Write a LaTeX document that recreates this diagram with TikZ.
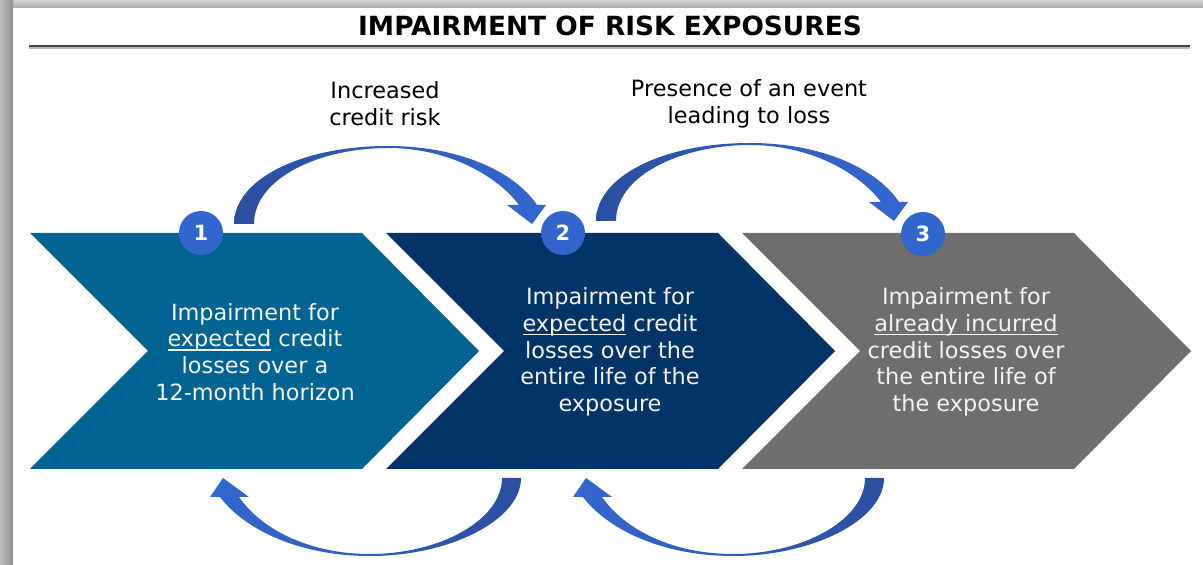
\documentclass[tikz,border=0pt]{standalone}
\usepackage{fontspec}
\setmainfont{DejaVu Sans}
\usetikzlibrary{calc}
\definecolor{chevA}{HTML}{006391}
\definecolor{chevB}{HTML}{003366}
\definecolor{chevC}{HTML}{6E6E6E}
\definecolor{numblue}{HTML}{3366CC}
\definecolor{arrDark}{HTML}{2A4FA0}
\definecolor{arrLight}{HTML}{3468D0}
\definecolor{shLight}{HTML}{BEBEBE}
\definecolor{shDark}{HTML}{929292}
\definecolor{shTop}{HTML}{ABABAB}
\definecolor{txtwhite}{HTML}{F4F4F4}
\definecolor{ruleDark}{HTML}{454545}
\definecolor{ruleLight}{HTML}{B8B8B8}
\newsavebox\ulxbox
\newcommand\ulx[1]{\sbox\ulxbox{#1}\rlap{\rule[-2pt]{\wd\ulxbox}{0.75pt}}#1}
\tikzset{
  bodytxt/.style={align=center, text=txtwhite, inner sep=0pt,
    font=\fontsize{11.2}{13.35}\selectfont},
  lbl/.style={align=center, text=black, inner sep=0pt,
    font=\fontsize{11.2}{13.35}\selectfont},
  numc/.style={circle, fill=numblue, minimum size=22pt, inner sep=0pt,
    text=white, font=\fontsize{10.5}{12}\selectfont\bfseries},
  toparrow/.pic={
    \shade[left color=arrDark, right color=arrLight]
      (0,0) .. controls (0,-44) and (66,-78) .. (154,-78)
      .. controls (226,-78) and (281,-52) .. (303,-19)
      -- (312,-19) -- (298,0) -- (273,-19) -- (285,-19)
      .. controls (264,-47) and (216,-76) .. (154,-76)
      .. controls (86,-76) and (20,-46) .. (20,0) -- cycle;
  },
  botarrow/.pic={
    \shade[left color=arrLight, right color=arrDark]
      (0,0) .. controls (0,42) and (-71,78) .. (-151,78)
      .. controls (-221,78) and (-276,52) .. (-301,19)
      -- (-311,19) -- (-298,0) -- (-272,19) -- (-282,19)
      .. controls (-259,52) and (-211,76) .. (-151,76)
      .. controls (-81,76) and (-19,42) .. (-19,0) -- cycle;
  }
}
\begin{document}
\begin{tikzpicture}[x=0.5pt,y=-0.5pt]
\useasboundingbox (0,0) rectangle (1203,565);
% panel with shadow
\shade[top color=shLight!70!white, bottom color=shTop] (0,0) rectangle (1203,8);
\shade[left color=shLight, right color=shDark] (0,0) rectangle (13,565);
\fill[white] (13,8) rectangle (1203,565);
% title
\node[anchor=base, inner sep=0pt, font=\fontsize{13.2}{15}\selectfont\bfseries] (title) at (610,36) {IMPAIRMENT OF RISK EXPOSURES};
\coordinate (rl) at (29,46);
\coordinate (rr) at (1190,46);
\draw[ruleLight, line width=1.5pt] ($(rl)+(0,1.5)$) -- ($(rr)+(0,1.5)$);
\draw[ruleDark, line width=1pt] (rl) -- (rr);
% chevrons
\fill[chevA] (30,233) -- (362,233) -- (479,351) -- (362,469) -- (30,469) -- (148,351) -- cycle;
\fill[chevB] (386,233) -- (718,233) -- (835,351) -- (718,469) -- (386,469) -- (504,351) -- cycle;
\fill[chevC] (742,233) -- (1074,233) -- (1191,351) -- (1074,469) -- (742,469) -- (860,351) -- cycle;
% texts
\node[bodytxt] (t1) at (255,352) {Impairment for\\\ulx{expected} credit\\losses over a\\12-month horizon};
\node[bodytxt] (t2) at (610,352) {Impairment for\\\ulx{expected} credit\\losses over the\\entire life of the\\exposure};
\node[bodytxt] (t3) at (966,352) {Impairment for\\\ulx{already incurred}\\credit losses over\\the entire life of\\the exposure};
\node[lbl] (l1) at (385,104) {Increased\\credit risk};
\node[lbl] (l2) at (749,104) {Presence of an event\\leading to loss};
% number circles
\node[numc] (c1) at (201,233) {1};
\node[numc] (c2) at (563,233) {2};
\node[numc] (c3) at (923,234) {3};
% arrows
\pic at ($(c1)+(33,-9)$) {toparrow};
\pic at ($(c2)+(33,-12)$) {toparrow};
\pic at (521,478) {botarrow};
\pic at (884,478) {botarrow};
\end{tikzpicture}
\end{document}
